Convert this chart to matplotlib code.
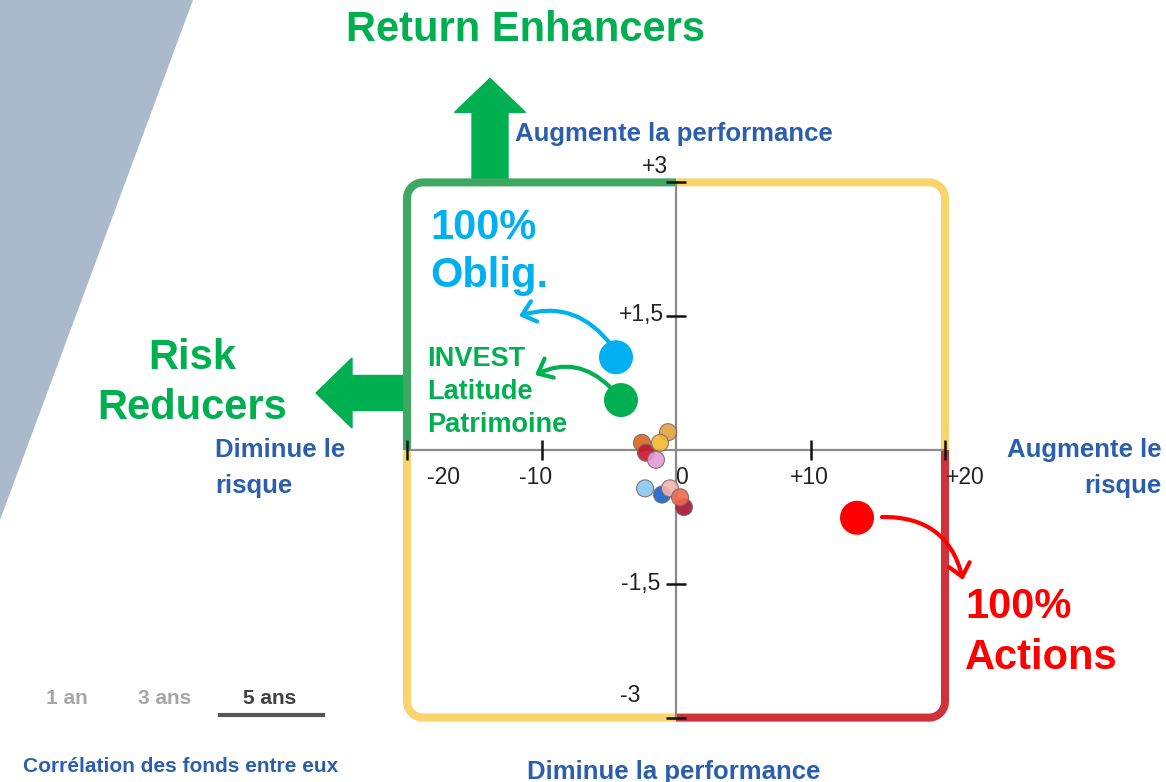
import matplotlib
matplotlib.use("Agg")
import matplotlib.pyplot as plt
import matplotlib.patches as mpatches
from matplotlib.path import Path
from matplotlib.transforms import IdentityTransform
import numpy as np

plt.rcParams['font.family'] = ['Liberation Sans', 'DejaVu Sans']

# ---------------- data ----------------
fund_risk = [-0.59, -2.53, -1.19, -2.23, -1.49, -1.04, -2.30, -0.45, 0.59, 0.30]
fund_perf = [0.20, 0.08, 0.08, -0.03, -0.11, -0.50, -0.43, -0.43, -0.64, -0.53]
fund_colors = ['#e3a23e', '#d8661e', '#f2b92e', '#c8142c', '#e39ad8',
               '#1463c8', '#86c8f2', '#f3b4b0', '#a5132f', '#f0694a']

ref_names = ['100% Oblig.', 'INVEST Latitude Patrimoine', '100% Actions']
ref_risk = [-4.46, -4.09, 13.46]
ref_perf = [1.04, 0.56, -0.76]
ref_colors = ['#00b0f0', '#00b050', '#ff0000']

xtick_vals = [-20, -10, 0, 10, 20]
xtick_labels = ['-20', '-10', '0', '+10', '+20']
ytick_vals = [3, 1.5, -1.5, -3]
ytick_labels = ['+3', '+1,5', '-1,5', '-3']

XMAX, YMAX = 20, 3
periods = ['1 an', '3 ans', '5 ans']

# ---------------- figure ----------------
W, H = 1166, 782
fig = plt.figure(figsize=(W / 100, H / 100), dpi=100)
ax = fig.add_axes([0, 0, 1, 1])
# axes scaled so that the quadrant box sits where it does in the reference
ax.set_xlim(-676 / 13.45, (W - 676) / 13.45)
ax.set_ylim((450 - H) / 89.2, 450 / 89.2)
ax.axis('off')

ID = IdentityTransform()


def F(x, y):
    """image pixel (from top-left) -> figure fraction"""
    return x / W, 1 - y / H


# background slanted band
fig.patches.append(mpatches.Polygon([F(0, 0), F(193, 0), F(0, 520)], closed=True,
                                    transform=fig.transFigure, facecolor='#aab9cb',
                                    edgecolor='none', zorder=0))

# ---------------- quadrant frame ----------------
fig.canvas.draw()
(L, B) = ax.transData.transform((-XMAX, -YMAX))
(R, T) = ax.transData.transform((XMAX, YMAX))
(X0, Y0) = ax.transData.transform((0, 0))
r = 16


def arc(cx, cy, a0, a1, n=20):
    t = np.radians(np.linspace(a0, a1, n))
    return list(zip(cx + r * np.cos(t), cy + r * np.sin(t)))


quads = [
    ([(X0, T)] + arc(L + r, T - r, 90, 180) + [(L, Y0)], '#3ea761'),
    ([(X0, T)] + arc(R - r, T - r, 90, 0) + [(R, Y0)], '#f8d46c'),
    ([(L, Y0)] + arc(L + r, B + r, 180, 270) + [(X0, B)], '#f8d46c'),
    ([(R, Y0)] + arc(R - r, B + r, 0, -90) + [(X0, B)], '#d0323c'),
]
for pts, col in quads:
    ax.add_patch(mpatches.PathPatch(Path(pts), transform=ID, facecolor='none',
                                    edgecolor=col, lw=5.8, capstyle='butt',
                                    joinstyle='round', zorder=2))

# axes lines
ax.plot([-XMAX, XMAX], [0, 0], color='#8a8a8a', lw=1.6, zorder=3)
ax.plot([0, 0], [-YMAX, YMAX], color='#8a8a8a', lw=1.6, zorder=3)

# ticks
ax.plot([v for v in xtick_vals if v != 0], [0] * 4, ls='none', marker='|',
        ms=14, mew=1.8, color='#111111', zorder=4)
ax.plot([0] * len(ytick_vals), ytick_vals, ls='none', marker='_',
        ms=15, mew=1.8, color='#111111', zorder=4)

xoff = [36, -6, 5, -1, 20]
for v, lab, dx in zip(xtick_vals, xtick_labels, xoff):
    ax.annotate(lab, xy=(v, 0), xytext=(dx * 0.72, -28 * 0.72), textcoords='offset points',
                ha='center', va='center', fontsize=16.5, color='#222222', zorder=5)
yoff = [(-8, 16), (-12, 2), (-16, 0), (-36, 22)]
for v, lab, (dx, dy) in zip(ytick_vals, ytick_labels, yoff):
    ax.annotate(lab, xy=(0, v), xytext=(dx * 0.72, dy * 0.72), textcoords='offset points',
                ha='right', va='center', fontsize=16.5, color='#222222', zorder=5)

# ---------------- points ----------------
ax.scatter(fund_risk, fund_perf, s=150, c=fund_colors, edgecolors='#7a6a6a',
           linewidths=0.8, alpha=0.9, zorder=6)
ax.scatter(ref_risk, ref_perf, s=600, c=ref_colors, edgecolors='none', zorder=6)

# ---------------- big green arrows ----------------
ax.add_patch(mpatches.FancyArrow(490, T, 0, 104, width=36, head_width=71,
                                 head_length=34, length_includes_head=True,
                                 color='#00b050', transform=ID, zorder=1))
ax.add_patch(mpatches.FancyArrow(L, H - 393, -91, 0, width=35, head_width=70,
                                 head_length=36, length_includes_head=True,
                                 color='#00b050', transform=ID, zorder=1))

# ---------------- curved arrows ----------------
def curved(a, b, rad, col):
    ax.add_patch(mpatches.FancyArrowPatch((a[0], H - a[1]), (b[0], H - b[1]),
                                          connectionstyle=f'arc3,rad={rad}',
                                          arrowstyle='->,head_length=0.45,head_width=0.38',
                                          mutation_scale=20, lw=3, color=col,
                                          shrinkA=0, shrinkB=0, transform=ID, zorder=7))


curved((612, 346), (519, 316), 0.35, '#00b0f0')
curved((610, 387), (535, 375), 0.35, '#00b050')
curved((882, 517), (963, 580), -0.4, '#ff0000')

# ---------------- texts ----------------
def T_(x, y, s, **kw):
    fig.text(*F(x, y + 3), s, **kw)


T_(526, 27, 'Return Enhancers', ha='center', va='center', fontsize=30,
   fontweight='bold', color='#00b050')
T_(192, 355, 'Risk', ha='center', va='center', fontsize=30, fontweight='bold', color='#00b050')
T_(192, 405, 'Reducers', ha='center', va='center', fontsize=30, fontweight='bold', color='#00b050')

T_(430, 225, '100%', ha='left', va='center', fontsize=30, fontweight='bold', color='#00b0f0')
T_(430, 273, 'Oblig.', ha='left', va='center', fontsize=30, fontweight='bold', color='#00b0f0')

T_(427, 356, 'INVEST', ha='left', va='center', fontsize=19.5, fontweight='bold', color='#00b050')
T_(427, 389, 'Latitude', ha='left', va='center', fontsize=19.5, fontweight='bold', color='#00b050')
T_(427, 422, 'Patrimoine', ha='left', va='center', fontsize=19.5, fontweight='bold', color='#00b050')

T_(965, 604, '100%', ha='left', va='center', fontsize=30, fontweight='bold', color='#ff0000')
T_(965, 655, 'Actions', ha='left', va='center', fontsize=30, fontweight='bold', color='#ff0000')

blue = '#2b5fae'
T_(515, 131, 'Augmente la performance', ha='left', va='center', fontsize=18.5,
   fontweight='bold', color=blue)
T_(527, 769, 'Diminue la performance', ha='left', va='center', fontsize=18.5,
   fontweight='bold', color=blue)
T_(215, 447, 'Diminue le', ha='left', va='center', fontsize=18.5, fontweight='bold', color=blue)
T_(215, 483, 'risque', ha='left', va='center', fontsize=18.5, fontweight='bold', color=blue)
T_(1162, 447, 'Augmente le', ha='right', va='center', fontsize=18.5, fontweight='bold', color=blue)
T_(1162, 483, 'risque', ha='right', va='center', fontsize=18.5, fontweight='bold', color=blue)
T_(23, 763, 'Corrélation des fonds entre eux', ha='left', va='center', fontsize=15,
   fontweight='bold', color=blue)

for xc, lab, col in zip([67, 165, 270], periods, ['#a6a6a6', '#a6a6a6', '#404040']):
    T_(xc, 695, lab, ha='center', va='center', fontsize=15, fontweight='bold', color=col)
fig.lines.append(plt.Line2D([220 / W, 323 / W], [1 - 715 / H] * 2, transform=fig.transFigure,
                            color='#555555', lw=3))

fig.savefig('out.png', dpi=100)
